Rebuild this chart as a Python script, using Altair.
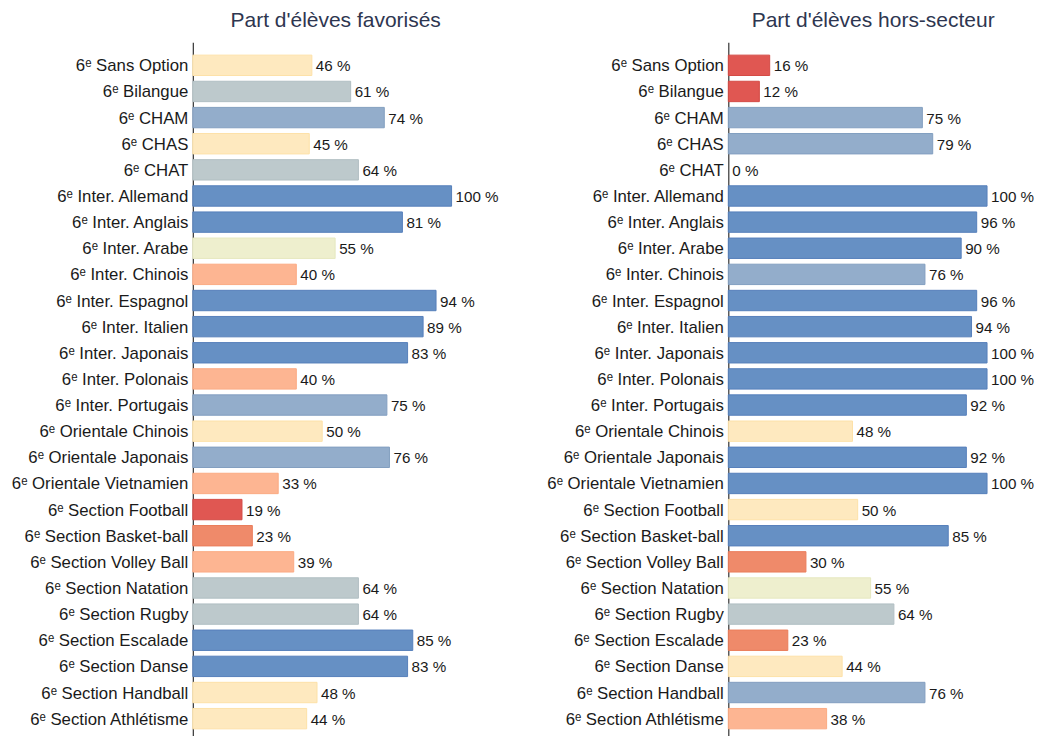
import altair as alt
import pandas as pd

categories = [
    "6ᵉ Sans Option", "6ᵉ Bilangue", "6ᵉ CHAM", "6ᵉ CHAS", "6ᵉ CHAT",
    "6ᵉ Inter. Allemand", "6ᵉ Inter. Anglais", "6ᵉ Inter. Arabe", "6ᵉ Inter. Chinois",
    "6ᵉ Inter. Espagnol", "6ᵉ Inter. Italien", "6ᵉ Inter. Japonais", "6ᵉ Inter. Polonais",
    "6ᵉ Inter. Portugais", "6ᵉ Orientale Chinois", "6ᵉ Orientale Japonais",
    "6ᵉ Orientale Vietnamien", "6ᵉ Section Football", "6ᵉ Section Basket-ball",
    "6ᵉ Section Volley Ball", "6ᵉ Section Natation", "6ᵉ Section Rugby",
    "6ᵉ Section Escalade", "6ᵉ Section Danse", "6ᵉ Section Handball",
    "6ᵉ Section Athlétisme",
]
favorises = [46, 61, 74, 45, 64, 100, 81, 55, 40, 94, 89, 83, 40, 75, 50, 76, 33,
             19, 23, 39, 64, 64, 85, 83, 48, 44]
hors_secteur = [16, 12, 75, 79, 0, 100, 96, 90, 76, 96, 94, 100, 100, 92, 48, 92, 100,
                50, 85, 30, 55, 64, 23, 44, 76, 38]

thresholds = [20, 31, 41, 51, 60, 70, 80]
fill_colors = ["#e05752", "#ef8a6a", "#fdb592", "#fee9bf", "#eeefce", "#bdc9cc", "#93adcb", "#6690c4"]
stroke_colors = ["#d44a44", "#ea7c5a", "#fbab84", "#fde1a8", "#e6e8c0", "#b1bfc3", "#839fc0", "#5680bb"]

fill_scale = alt.Scale(type="threshold", domain=thresholds, range=fill_colors)
stroke_scale = alt.Scale(type="threshold", domain=thresholds, range=stroke_colors)


def panel(values, title, width, title_dx):
    df = pd.DataFrame({"cat": categories, "val": values})
    df["label"] = df["val"].astype(str) + " %"
    domain_max = width / 2.59
    y = alt.Y("cat:N", sort=categories, title=None,
              scale=alt.Scale(paddingInner=0.22, paddingOuter=0.49),
              axis=alt.Axis(ticks=False, labelPadding=5, labelFontSize=16.8,
                            labelColor="#1a1a1a", labelFont="Liberation Sans",
                            labelOffset=1,
                            domainColor="#333333", domainWidth=1.2,
                            minExtent=185, maxExtent=185, labelLimit=300))
    x = alt.X("val:Q", title=None, axis=None,
              scale=alt.Scale(domain=[0, domain_max], nice=False, zero=True))
    base = alt.Chart(df)
    bars = base.transform_filter("datum.val > 0").mark_bar(strokeWidth=1).encode(
        y=y, x=x,
        fill=alt.Fill("val:Q", scale=fill_scale, legend=None),
        stroke=alt.Stroke("val:Q", scale=stroke_scale, legend=None),
    )
    texts = base.mark_text(align="left", dx=4, dy=1, fontSize=15.2, color="#1a1a1a",
                           font="Liberation Sans").encode(
        y=alt.Y("cat:N", sort=categories), x=x, text="label:N")
    return alt.layer(bars, texts).properties(
        width=width, height=700,
        title=alt.TitleParams(title, fontSize=21, fontWeight="normal", color="#2e3650",
                              font="Liberation Sans", anchor="middle", dx=title_dx,
                              offset=11),
    )


left = panel(favorises, "Part d'élèves favorisés", 320, -17)
right = panel(hors_secteur, "Part d'élèves hors-secteur", 290, 0)

chart = alt.hconcat(left, right, spacing=31).properties(
    padding={"top": 2, "left": 0, "right": 0, "bottom": 0}
).configure_view(stroke=None)

chart.save("out.html", embed_options={"renderer": "svg", "actions": False})
